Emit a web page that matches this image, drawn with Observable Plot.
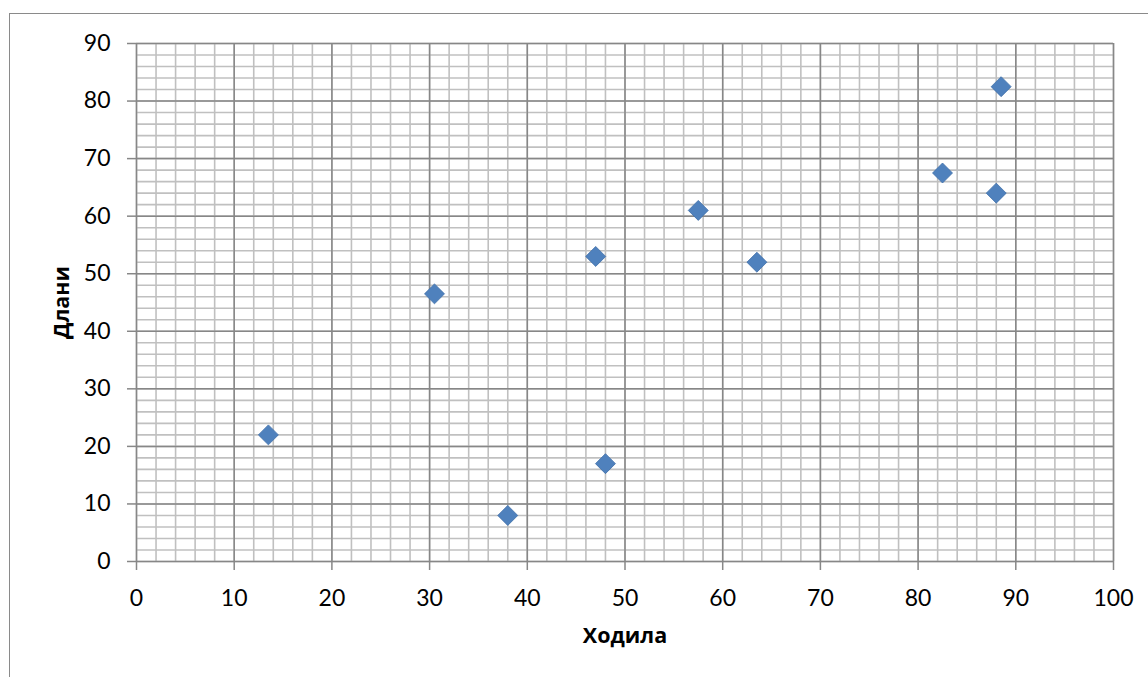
<!DOCTYPE html>
<html>
<head>
<meta charset="utf-8">
<script src="https://cdn.jsdelivr.net/npm/d3@7"></script>
<script src="https://cdn.jsdelivr.net/npm/@observablehq/plot@0.6"></script>
<style>
  html, body { margin: 0; padding: 0; background: #fff; overflow: hidden; }
  #wrap { position: relative; width: 1148px; height: 677px; }
  #frame { position: absolute; left: 9px; top: 13px; width: 1160px; height: 700px; border: 1px solid #8a8a8a; box-sizing: border-box; }
  #chart { position: absolute; left: 0; top: 0; }
</style>
</head>
<body>
<div id="wrap"><div id="frame"></div><div id="chart"></div></div>
<script>
// Data
const xValues = [13.5, 30.5, 38, 47, 48, 57.5, 63.5, 82.5, 88, 88.5];
const yValues = [22, 46.5, 8, 53, 17, 61, 52, 67.5, 64, 82.5];
const xTicks = [0, 10, 20, 30, 40, 50, 60, 70, 80, 90, 100];
const yTicks = [0, 10, 20, 30, 40, 50, 60, 70, 80, 90];
const xMinor = d3.range(0, 101, 2);
const yMinor = d3.range(0, 91, 2);
const xTitle = "Ходила";
const yTitle = "Длани";

const points = xValues.map((x, i) => ({x, y: yValues[i]}));

const minorColor = "#c0c0c0";
const majorColor = "#878787";

const chart = Plot.plot({
  width: 1148,
  height: 677,
  marginLeft: 136,
  marginRight: 35,
  marginTop: 43,
  marginBottom: 116,
  style: {fontFamily: "Lato, 'Open Sans', sans-serif", fontSize: "23px", color: "#000", background: "transparent"},
  x: {domain: [0, 100]},
  y: {domain: [0, 90]},
  marks: [
    Plot.ruleX(xMinor, {stroke: minorColor, strokeWidth: 1.6}),
    Plot.ruleY(yMinor, {stroke: minorColor, strokeWidth: 1.6}),
    Plot.ruleX(xTicks, {stroke: majorColor, strokeWidth: 1.5}),
    Plot.ruleY(yTicks, {stroke: majorColor, strokeWidth: 1.5}),
    Plot.axisX({ticks: xTicks, tickSize: 9, tickPadding: 19, stroke: majorColor, strokeWidth: 1.5, fill: "#000", label: null, tickFormat: d => String(d)}),
    Plot.axisY({ticks: yTicks, tickSize: 9, tickPadding: 17, stroke: majorColor, strokeWidth: 1.5, fill: "#000", label: null, tickFormat: d => String(d)}),
    Plot.dot(points, {x: "x", y: "y", symbol: "diamond2", r: 9, fill: "#4F81BD", stroke: "#3f6fa8", strokeWidth: 0.8}),
    Plot.text([xTitle], {frameAnchor: "bottom", dy: 75, text: d => d, textAnchor: "middle", fontWeight: "bold", fontSize: 21.5, fontFamily: "'Open Sans', sans-serif", lineAnchor: "middle", fill: "#000"}),
    Plot.text([yTitle], {frameAnchor: "left", dx: -74, text: d => d, textAnchor: "middle", rotate: -90, fontWeight: "bold", fontSize: 21.5, fontFamily: "'Open Sans', sans-serif", lineAnchor: "middle", fill: "#000"})
  ]
});
document.getElementById("chart").appendChild(chart);
</script>
</body>
</html>
